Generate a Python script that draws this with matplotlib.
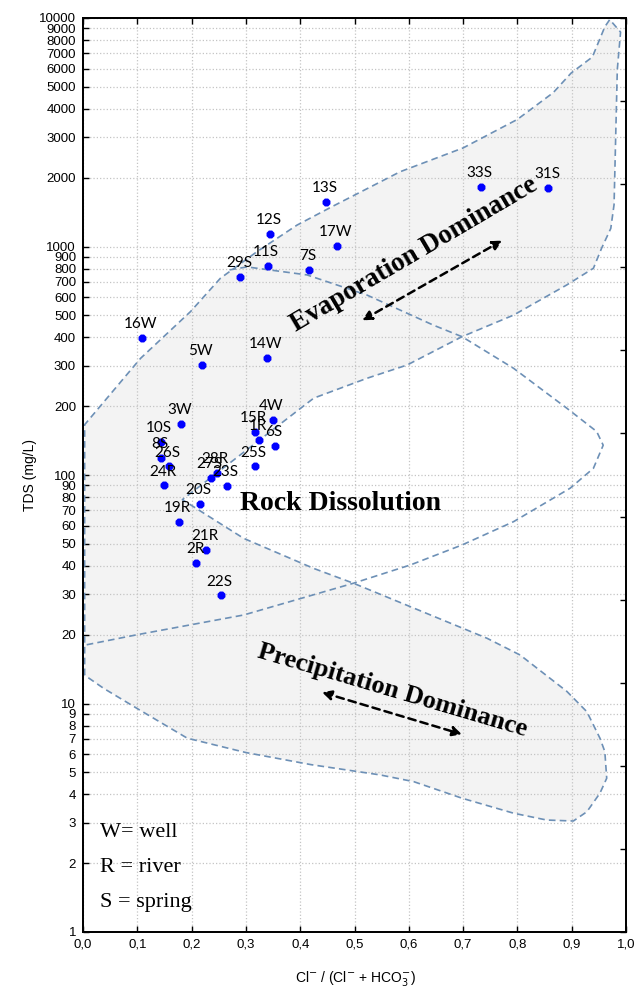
import matplotlib
matplotlib.use('Agg')
import matplotlib.pyplot as plt
import numpy as np
from matplotlib.ticker import NullLocator

# sample points: Cl/(Cl+HCO3) ratio and TDS (mg/L)
names = ['16W', '5W', '14W', '29S', '11S', '7S', '12S', '17W', '13S', '33S', '31S',
         '3W', '10S', '8S', '26S', '24R', '28R', '27S', '23S', '20S', '19R',
         '21R', '2R', '22S', '4W', '15R', '1R', '6S', '25S']
ratio = [0.108, 0.219, 0.338, 0.290, 0.340, 0.417, 0.344, 0.468, 0.448, 0.733, 0.857,
         0.180, 0.143, 0.144, 0.158, 0.150, 0.246, 0.235, 0.265, 0.215, 0.176,
         0.227, 0.209, 0.254, 0.349, 0.317, 0.325, 0.354, 0.316]
tds = [396, 303, 324, 738, 825, 789, 1131, 1009, 1561, 1829, 1810,
       167, 140, 119, 109, 90, 102, 97, 89.5, 74.6, 62,
       47, 41.4, 29.7, 174, 155, 143, 134.5, 109]

# Gibbs boomerang outline (closed)
env_x = [0.003, 0.003, 0.106, 0.198, 0.253, 0.32, 0.394, 0.46, 0.584, 0.70,
         0.80, 0.866, 0.899, 0.938, 0.961, 0.97, 0.99, 0.984, 0.978, 0.972, 0.955, 0.94,
         0.891, 0.793, 0.698, 0.597, 0.523, 0.425, 0.183, 0.296, 0.425, 0.498, 0.744,
         0.805, 0.891, 0.928, 0.952, 0.961, 0.9645, 0.952, 0.928, 0.903, 0.854, 0.793,
         0.698, 0.609, 0.547, 0.42, 0.3, 0.192, 0.1, 0.038, 0.003]
env_y = [13.3, 166, 324, 519, 726, 948, 1240, 1500, 2124, 2700,
         3600, 4713, 5744, 6747, 9150, 9840, 8676, 5950, 1524, 1200, 982, 803,
         679, 501, 403, 303, 265, 217, 78, 52.8, 39, 33.6, 19.3,
         16.3, 11.3, 9.2, 7.05, 6.16, 4.71, 4.05, 3.36, 3.06, 3.09, 3.31,
         3.85, 4.55, 4.87, 5.4, 6.1, 7.05, 9.5, 11.65, 13.3]

# rock dominance boundary
rock_x = [0.27, 0.302, 0.4125, 0.523, 0.645, 0.698, 0.793, 0.891, 0.946, 0.958, 0.94,
          0.897, 0.793, 0.698, 0.603, 0.498, 0.296, 0.0997, 0.003]
rock_y = [790, 814, 751, 613, 453, 403, 293, 196, 155, 135, 107,
          87.5, 62.5, 49.4, 40.4, 33.6, 24.4, 20, 18]

y_ticks = [1, 2, 3, 4, 5, 6, 7, 8, 9, 10, 20, 30, 40, 50, 60, 70, 80, 90,
           100, 200, 300, 400, 500, 600, 700, 800, 900,
           1000, 2000, 3000, 4000, 5000, 6000, 7000, 8000, 9000, 10000]
x_ticks = [0.0, 0.1, 0.2, 0.3, 0.4, 0.5, 0.6, 0.7, 0.8, 0.9, 1.0]
x_labels = ['0,0', '0,1', '0,2', '0,3', '0,4', '0,5', '0,6', '0,7', '0,8', '0,9', '1,0']

serif = ['Liberation Serif', 'DejaVu Serif']
sans = ['Liberation Sans', 'DejaVu Sans']

fig = plt.figure(figsize=(6.36, 9.94), dpi=100)
ax = fig.add_axes([83 / 636, 62 / 994, 543 / 636, 914 / 994])
ax.set_yscale('log')
ax.set_xlim(0, 1)
ax.set_ylim(1, 10000)

ax.set_yticks(y_ticks)
ax.set_yticklabels([str(t) for t in y_ticks], family=sans, fontsize=9.5)
ax.yaxis.set_minor_locator(NullLocator())
ax.set_xticks(x_ticks)
ax.set_xticklabels(x_labels, family=sans, fontsize=9.5)
ax.tick_params(direction='in', length=4, width=1, top=True, right=False, pad=5)
ax.grid(True, ls=':', color='#c4c4c4', lw=0.9)
ax.set_axisbelow(True)
for s in ax.spines.values():
    s.set_linewidth(1.3)

# right side ticks (plain, unlabeled)
ax2 = ax.twinx()
ax2.set_ylim(0, 11)
ax2.set_yticks(range(12))
ax2.tick_params(direction='in', length=4, width=1, labelright=False)
for s in ax2.spines.values():
    s.set_linewidth(1.3)

line_col = '#6d90b6'
ax.fill(env_x, env_y, color='#f3f3f3', zorder=0.2, lw=0)
ax.plot(env_x, env_y, color=line_col, lw=1.2, ls=(0, (4, 2.5)), zorder=1)
ax.plot(rock_x, rock_y, color=line_col, lw=1.2, ls=(0, (4, 2.5)), zorder=1)

ax.scatter(ratio, tds, marker='8', s=38, color='#0000ff', zorder=3, lw=0)
for n, x, y in zip(names, ratio, tds):
    ax.annotate(n, (x, y), xytext=(-1, 5), textcoords='offset points',
                ha='center', va='bottom', fontsize=11, family=['Lato', 'DejaVu Sans'],
                zorder=4)

ax.text(0.61, 922, 'Evaporation Dominance', rotation=30.5, rotation_mode='anchor',
        ha='center', va='center', family=serif, fontsize=19.5, fontweight='bold')
ax.text(0.474, 75.2, 'Rock Dissolution', ha='center', va='center',
        family=serif, fontsize=20, fontweight='bold')
ax.text(0.569, 11.4, 'Precipitation Dominance', rotation=-16.4, rotation_mode='anchor',
        ha='center', va='center', family=serif, fontsize=19, fontweight='bold')

arrow = dict(arrowstyle='<|-|>', color='black', lw=1.8, ls=(0, (3, 2)),
             mutation_scale=14, shrinkA=0, shrinkB=0)
ax.annotate('', xy=(0.772, 1062), xytext=(0.514, 475), arrowprops=arrow)
ax.annotate('', xy=(0.698, 7.33), xytext=(0.44, 11.2), arrowprops=arrow)

ax.text(0.032, 2.60, 'W= well', family=serif, fontsize=16, va='baseline')
ax.text(0.032, 1.826, 'R = river', family=serif, fontsize=16, va='baseline')
ax.text(0.032, 1.288, 'S = spring', family=serif, fontsize=16, va='baseline')

fig.text(30 / 636, 1 - 475 / 994, 'TDS (mg/L)', rotation=90, ha='center', va='center',
         family=sans, fontsize=10)
fig.text(355 / 636, 1 - 978 / 994, r'Cl$^{-}$ / (Cl$^{-}$ + HCO$_3^{-}$)', ha='center',
         va='center', family=sans, fontsize=10)

fig.savefig('out.png', dpi=100)
